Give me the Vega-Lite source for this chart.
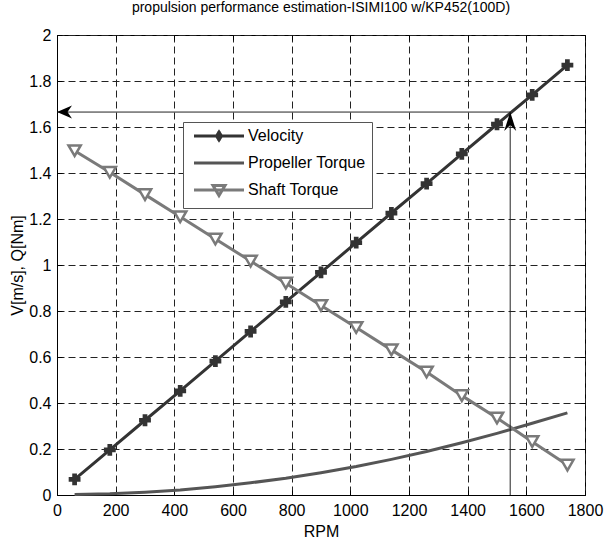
{
  "$schema": "https://vega.github.io/schema/vega-lite/v6.json",
  "width": 528,
  "height": 460,
  "autosize": {"type": "none"},
  "padding": {"left": 57, "top": 35, "right": 20, "bottom": 53},
  "title": {"text": "propulsion performance estimation-ISIMI100 w/KP452(100D)", "font": "Liberation Sans", "fontSize": 14, "fontWeight": "normal", "color": "black", "offset": 12},
  "datasets": {
    "series": [
      {"rpm": 60, "series": "Velocity", "value": 0.068},
      {"rpm": 180, "series": "Velocity", "value": 0.196},
      {"rpm": 300, "series": "Velocity", "value": 0.325},
      {"rpm": 420, "series": "Velocity", "value": 0.453},
      {"rpm": 540, "series": "Velocity", "value": 0.582},
      {"rpm": 660, "series": "Velocity", "value": 0.711},
      {"rpm": 780, "series": "Velocity", "value": 0.84},
      {"rpm": 900, "series": "Velocity", "value": 0.968},
      {"rpm": 1020, "series": "Velocity", "value": 1.097},
      {"rpm": 1140, "series": "Velocity", "value": 1.226},
      {"rpm": 1260, "series": "Velocity", "value": 1.354},
      {"rpm": 1380, "series": "Velocity", "value": 1.483},
      {"rpm": 1500, "series": "Velocity", "value": 1.612},
      {"rpm": 1620, "series": "Velocity", "value": 1.74},
      {"rpm": 1740, "series": "Velocity", "value": 1.869},
      {"rpm": 60, "series": "Propeller Torque", "value": 0.002},
      {"rpm": 180, "series": "Propeller Torque", "value": 0.005},
      {"rpm": 300, "series": "Propeller Torque", "value": 0.012},
      {"rpm": 420, "series": "Propeller Torque", "value": 0.022},
      {"rpm": 540, "series": "Propeller Torque", "value": 0.036},
      {"rpm": 660, "series": "Propeller Torque", "value": 0.053},
      {"rpm": 780, "series": "Propeller Torque", "value": 0.073},
      {"rpm": 900, "series": "Propeller Torque", "value": 0.097},
      {"rpm": 1020, "series": "Propeller Torque", "value": 0.124},
      {"rpm": 1140, "series": "Propeller Torque", "value": 0.155},
      {"rpm": 1260, "series": "Propeller Torque", "value": 0.189},
      {"rpm": 1380, "series": "Propeller Torque", "value": 0.227},
      {"rpm": 1500, "series": "Propeller Torque", "value": 0.268},
      {"rpm": 1620, "series": "Propeller Torque", "value": 0.312},
      {"rpm": 1740, "series": "Propeller Torque", "value": 0.357},
      {"rpm": 60, "series": "Shaft Torque", "value": 1.497},
      {"rpm": 180, "series": "Shaft Torque", "value": 1.403},
      {"rpm": 300, "series": "Shaft Torque", "value": 1.306},
      {"rpm": 420, "series": "Shaft Torque", "value": 1.21},
      {"rpm": 540, "series": "Shaft Torque", "value": 1.113},
      {"rpm": 660, "series": "Shaft Torque", "value": 1.017},
      {"rpm": 780, "series": "Shaft Torque", "value": 0.921},
      {"rpm": 900, "series": "Shaft Torque", "value": 0.824},
      {"rpm": 1020, "series": "Shaft Torque", "value": 0.728},
      {"rpm": 1140, "series": "Shaft Torque", "value": 0.631},
      {"rpm": 1260, "series": "Shaft Torque", "value": 0.535},
      {"rpm": 1380, "series": "Shaft Torque", "value": 0.432},
      {"rpm": 1500, "series": "Shaft Torque", "value": 0.335},
      {"rpm": 1620, "series": "Shaft Torque", "value": 0.232},
      {"rpm": 1740, "series": "Shaft Torque", "value": 0.13}
    ],
    "arrows": [
      {"x": 0, "x2": 1545, "y": 1.665, "y2": 1.665},
      {"x": 1545, "x2": 1545, "y": 0, "y2": 1.665}
    ],
    "heads": [
      {"x": 0, "y": 1.665, "dir": "left"},
      {"x": 1545, "y": 1.665, "dir": "up"}
    ]
  },
  "resolve": {"axis": {"x": "independent", "y": "independent"}},
  "layer": [
    {
      "data": {"name": "series"},
      "mark": {"type": "line", "strokeWidth": 3},
      "encoding": {
        "x": {"field": "rpm", "type": "quantitative", "scale": {"domain": [0, 1800], "nice": false},
          "axis": {"values": [0, 200, 400, 600, 800, 1000, 1200, 1400, 1600, 1800], "format": "d", "title": "RPM", "grid": true, "gridDash": [7, 4], "gridColor": "#222", "gridWidth": 1, "tickSize": -5, "tickColor": "black", "domainColor": "black", "labelFont": "Liberation Sans", "labelFontSize": 16, "labelColor": "black", "labelPadding": 12, "titleFont": "Liberation Sans", "titleFontSize": 16, "titleFontWeight": "normal", "titleColor": "black", "titlePadding": 5, "labelFlush": false}},
        "y": {"field": "value", "type": "quantitative", "scale": {"domain": [0, 2], "nice": false},
          "axis": {"values": [0, 0.2, 0.4, 0.6, 0.8, 1, 1.2, 1.4, 1.6, 1.8, 2], "format": "~g", "title": "V[m/s], Q[Nm]", "grid": true, "gridDash": [7, 4], "gridColor": "#222", "gridWidth": 1, "tickSize": -5, "tickColor": "black", "domainColor": "black", "labelFont": "Liberation Sans", "labelFontSize": 16, "labelColor": "black", "labelPadding": 11, "titleFont": "Liberation Sans", "titleFontSize": 16, "titleFontWeight": "normal", "titleColor": "black", "titlePadding": 3, "labelFlush": false}},
        "color": {"field": "series", "type": "nominal", "sort": null,
          "scale": {"domain": ["Velocity", "Propeller Torque", "Shaft Torque"], "range": ["#333333", "#555555", "#7a7a7a"]},
          "legend": {"orient": "none", "legendX": 126, "legendY": 87, "title": null, "direction": "vertical",
            "labelFont": "Liberation Sans", "labelFontSize": 16, "labelColor": "black",
            "strokeColor": "#555", "fillColor": "white", "padding": 6, "rowPadding": 8,
            "symbolSize": 100, "symbolStrokeWidth": 3, "symbolOffset": 22, "labelOffset": 21,
            "encode": {"symbols": {"update": {
              "shape": {"signal": "datum.value === 'Velocity' ? 'M-5,0L5,0M0,-1L0,1M-0.5,0L0,-0.8L0.5,0L0,0.8Z' : (datum.value === 'Shaft Torque' ? 'M-5,0L5,0M-1.2,-0.9L1.2,-0.9L0,1.1Z' : 'M-5,0L5,0')"},
              "fill": {"signal": "datum.value === 'Velocity' ? '#333333' : 'white'"},
              "strokeWidth": {"value": 3},
              "opacity": {"value": 1}
            }}}}}
      }
    },
    {
      "data": {"name": "series"},
      "transform": [{"filter": "datum.series === 'Velocity'"}],
      "mark": {"type": "point", "shape": "cross", "filled": true, "size": 140, "color": "#333333", "opacity": 1},
      "encoding": {
        "x": {"field": "rpm", "type": "quantitative", "axis": null},
        "y": {"field": "value", "type": "quantitative", "axis": null}
      }
    },
    {
      "data": {"name": "series"},
      "transform": [{"filter": "datum.series === 'Shaft Torque'"}],
      "mark": {"type": "point", "shape": "triangle-down", "filled": false, "fill": "white", "fillOpacity": 1, "stroke": "#7a7a7a", "strokeWidth": 2.5, "size": 150, "opacity": 1},
      "encoding": {
        "x": {"field": "rpm", "type": "quantitative", "axis": null},
        "y": {"field": "value", "type": "quantitative", "axis": null}
      }
    },
    {
      "data": {"name": "arrows"},
      "mark": {"type": "rule", "color": "#222", "strokeWidth": 1},
      "encoding": {
        "x": {"field": "x", "type": "quantitative",
          "axis": {"orient": "top", "values": [0, 200, 400, 600, 800, 1000, 1200, 1400, 1600, 1800], "labels": false, "title": null, "grid": false, "domain": false, "tickSize": -5, "tickColor": "black"}},
        "x2": {"field": "x2"},
        "y": {"field": "y", "type": "quantitative",
          "axis": {"orient": "right", "values": [0, 0.2, 0.4, 0.6, 0.8, 1, 1.2, 1.4, 1.6, 1.8, 2], "labels": false, "title": null, "grid": false, "domain": false, "tickSize": -5, "tickColor": "black"}},
        "y2": {"field": "y2"}
      }
    },
    {
      "data": {"name": "heads"},
      "mark": {"type": "point", "filled": true, "color": "black", "size": 100, "opacity": 1},
      "encoding": {
        "x": {"field": "x", "type": "quantitative", "axis": null},
        "y": {"field": "y", "type": "quantitative", "axis": null},
        "shape": {"field": "dir", "type": "nominal", "legend": null,
          "scale": {"domain": ["left", "up"], "range": ["M0,0L3,-1.3L2.1,0L3,1.3Z", "M0,0L-1.2,3.8L0,2.6L1.2,3.8Z"]}}
      }
    }
  ],
  "config": {
    "view": {"stroke": "black", "strokeWidth": 1},
    "font": "Liberation Sans",
    "background": "white"
  }
}
